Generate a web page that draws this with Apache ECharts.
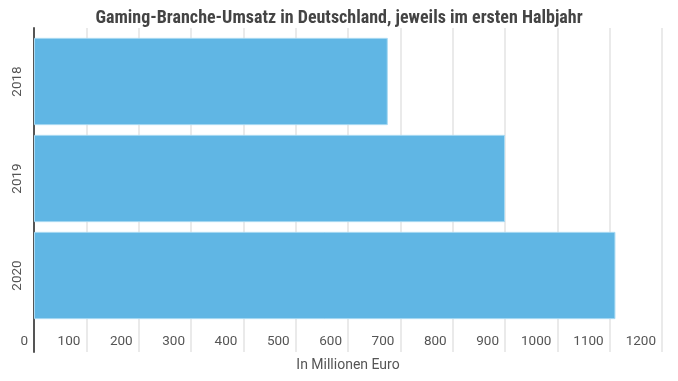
<!DOCTYPE html>
<html><head><meta charset="utf-8">
<script src="https://cdn.jsdelivr.net/npm/echarts@6/dist/echarts.min.js"></script>
<style>html,body{margin:0;padding:0;background:#fff}#c{width:678px;height:381px}</style>
</head><body><div id="c"></div>
<script>
var titleText = 'Gaming-Branche-Umsatz in Deutschland, jeweils im ersten Halbjahr';
var categories = ['2018', '2019', '2020'];
var values = [676, 900, 1111];
var axisName = 'In Millionen Euro';
var xMin = 0, xMax = 1200, xStep = 100;

var chart = echarts.init(document.getElementById('c'), null, {renderer: 'canvas'});
var labelColor = '#555';
chart.setOption({
  animation: false,
  title: {
    text: titleText, left: 'center', top: 4,
    textStyle: {fontFamily: '"Roboto Condensed", "Liberation Sans Narrow", Roboto', fontWeight: 'bold', fontSize: 18, color: '#444'}
  },
  grid: [
    {left: 34, right: 16, top: 33, height: 291},
    {left: 34, right: 16, top: 28, height: 324}
  ],
  xAxis: [
    {gridIndex: 0, type: 'value', min: xMin, max: xMax, interval: xStep, show: false},
    {gridIndex: 1, type: 'value', min: xMin, max: xMax, interval: xStep,
     axisLine: {show: false}, axisTick: {show: false},
     splitLine: {show: true, lineStyle: {color: '#e3e3e3', width: 1.5}},
     axisLabel: {inside: true, align: 'right', verticalAlign: 'middle', margin: 10, padding: [0, 6, 0, 0],
                 color: labelColor, fontFamily: 'Roboto', fontSize: 13.5,
                 formatter: function (v) { return String(v); }},
     name: axisName, nameLocation: 'middle', nameGap: 6,
     nameTextStyle: {color: labelColor, fontFamily: 'Roboto', fontSize: 14, verticalAlign: 'top'}}
  ],
  yAxis: [
    {gridIndex: 0, type: 'category', data: categories, inverse: true,
     axisLine: {show: false}, axisTick: {show: false},
     axisLabel: {rotate: 90, margin: 9, color: labelColor, fontFamily: 'Roboto', fontSize: 13.5}},
    {gridIndex: 1, type: 'value', min: 0, max: 1, show: true,
     axisLine: {show: true, lineStyle: {color: '#555', width: 2}},
     axisTick: {show: false}, axisLabel: {show: false}, splitLine: {show: false}}
  ],
  series: [{
    type: 'bar', xAxisIndex: 0, yAxisIndex: 0, data: values,
    barCategoryGap: '10%',
    itemStyle: {color: '#60b6e4', borderColor: '#a9daf3', borderWidth: 1},
    z: 3
  }]
});
</script></body></html>
